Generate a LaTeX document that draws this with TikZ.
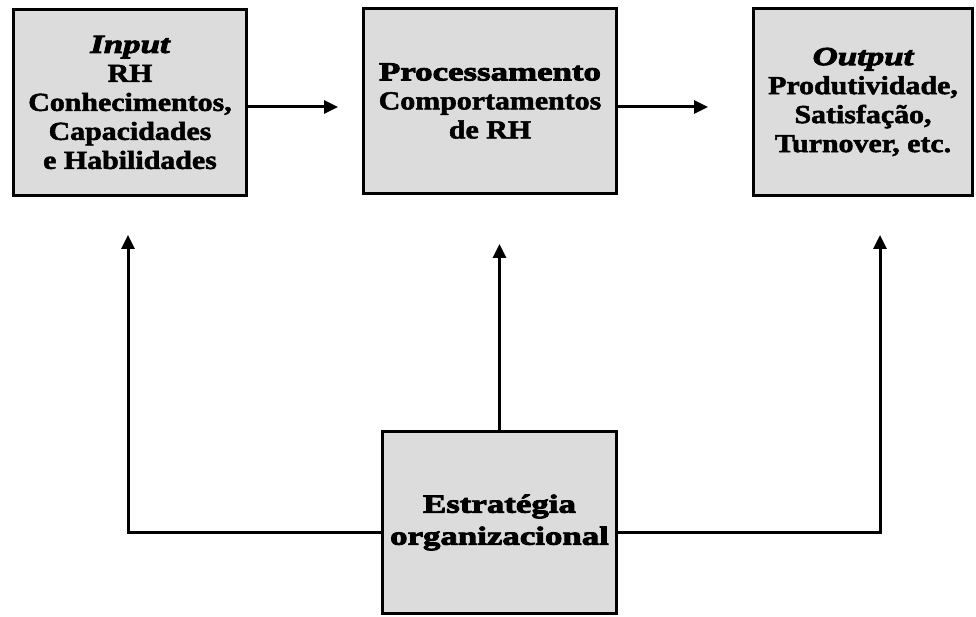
\documentclass[tikz,border=0pt]{standalone}
\usepackage{fontspec}
\newfontfamily\bodyfont{Liberation Serif}[FakeStretch=1.15, FakeBold=2]
\newfontfamily\headfont{Liberation Serif}[FakeStretch=1.34, FakeBold=3.5]
\usetikzlibrary{arrows.meta}
\definecolor{boxfill}{RGB}{220,220,220}
\newcommand\headtxt[1]{{\headfont\bfseries\fontsize{26}{29}\selectfont #1}}
\newcommand\headit[1]{{\headfont\bfseries\itshape\fontsize{26}{29}\selectfont #1}}
\tikzset{
  block/.style={draw=black, line width=3.5pt, fill=boxfill, align=center,
    inner sep=0pt, font=\bodyfont\bfseries\fontsize{26}{29}\selectfont},
  link/.style={line width=3pt},
  arrowlink/.style={link, -{Triangle[length=14pt,width=13pt]}},
}
\begin{document}
\begin{tikzpicture}[x=1pt,y=-1pt]
  \fill[white] (0,0) rectangle (976,617);
  \useasboundingbox (0,0) rectangle (976,617);

  % top row: input, processing, output
  \node[block, minimum width=233pt, minimum height=186pt] (inp) at (130,102.5)
    {\headit{Input}\\RH\\Conhecimentos,\\Capacidades\\e Habilidades};
  \node[block, minimum width=253pt, minimum height=185pt] (proc) at (490,101)
    {\headtxt{Processamento}\\Comportamentos\\de RH};
  \node[block, minimum width=219pt, minimum height=187pt] (out) at (863,102)
    {\headit{Output}\\Produtividade,\\Satisfação,\\Turnover, etc.};

  % bottom: organisational strategy
  \node[block, minimum width=234pt, minimum height=182pt] (strat) at (499.5,522.5)
    {\headtxt{Estratégia}\\[3pt]\headtxt{organizacional}};

  % flow along the top row
  \coordinate (t1) at (338,107);
  \coordinate (t2) at (708,107);
  \draw[arrowlink] (inp.east |- t1) -- (t1);
  \draw[arrowlink] (proc.east |- t2) -- (t2);

  % strategy feeding each stage
  \coordinate (lc) at (128,532);
  \coordinate (lt) at (128,235);
  \coordinate (rc) at (880,532);
  \coordinate (rt) at (880,235);
  \coordinate (mt) at (499.5,244);
  \draw[arrowlink] (strat.west |- lc) -- (lc) -- (lt);
  \draw[arrowlink] (strat.north) -- (mt);
  \draw[arrowlink] (strat.east |- rc) -- (rc) -- (rt);
\end{tikzpicture}
\end{document}
